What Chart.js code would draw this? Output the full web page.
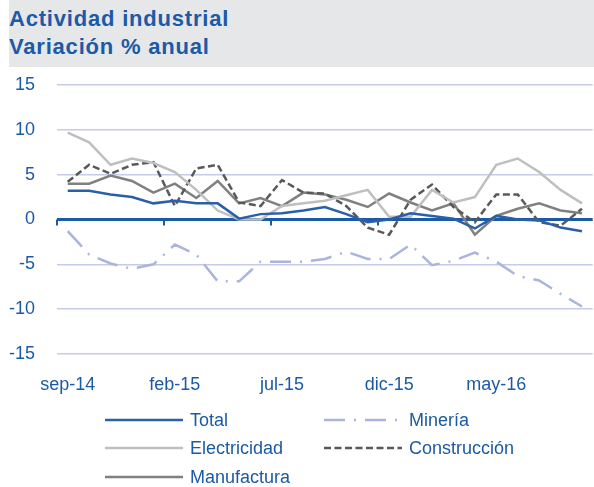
<!DOCTYPE html>
<html lang="es">

<head>
    <meta charset="UTF-8">
    <title>Actividad industrial</title>
    <script src="https://cdn.jsdelivr.net/npm/chart.js"></script>
    <style>
        body { margin: 0; background: #fff; }
        .wrap { position: relative; width: 594px; height: 487px; }
        .titulo {
            position: absolute; left: 9px; top: 0; width: 585px; height: 67px;
            background: #e6e7e8; box-sizing: border-box; padding: 5px 0 0 0;
            font-family: "Liberation Sans", Arial, sans-serif; font-weight: bold;
            font-size: 22px; line-height: 28px; letter-spacing: 0.8px; color: #1b5aa6;
        }
        canvas { position: absolute; left: 0; top: 0; }
    </style>
</head>

<body>
    <div class="wrap">
        <canvas id="actividadChart" width="594" height="487"></canvas>
        <div class="titulo">Actividad industrial<br>Variación % anual</div>
    </div>

    <script>
        // datos (variacion % anual)
        const meses = ['sep-14', 'oct-14', 'nov-14', 'dic-14', 'ene-15', 'feb-15', 'mar-15', 'abr-15', 'may-15',
            'jun-15', 'jul-15', 'ago-15', 'sep-15', 'oct-15', 'nov-15', 'dic-15', 'ene-16', 'feb-16', 'mar-16',
            'abr-16', 'may-16', 'jun-16', 'jul-16', 'ago-16', 'sep-16'];
        const total = [3.2, 3.2, 2.8, 2.5, 1.8, 2.1, 1.8, 1.8, 0.1, 0.6, 0.7, 1.0, 1.4, 0.6, -0.3, 0.0, 0.7, 0.4,
            0.1, -1.0, 0.4, 0.0, -0.1, -0.9, -1.3];
        const mineria = [-1.3, -3.9, -4.9, -5.5, -5.0, -2.8, -3.9, -6.9, -6.9, -4.7, -4.7, -4.7, -4.4, -3.6, -4.4,
            -4.4, -2.8, -5.1, -4.6, -3.7, -4.7, -6.3, -6.8, -8.3, -9.7];
        const electricidad = [9.7, 8.6, 6.1, 6.8, 6.3, 5.3, 3.3, 1.0, 0.0, 0.0, 1.5, 1.8, 2.1, 2.7, 3.3, 0.3, 0.3,
            3.3, 1.9, 2.5, 6.1, 6.8, 5.3, 3.3, 1.8];
        const construccion = [4.2, 6.1, 5.1, 6.1, 6.4, 1.5, 5.7, 6.1, 1.9, 1.5, 4.4, 3.0, 2.9, 1.5, -0.9, -1.7, 2.2,
            3.9, 1.4, -0.3, 2.8, 2.8, -0.3, -0.7, 1.2];
        const manufactura = [4.0, 4.0, 4.9, 4.3, 3.0, 4.0, 2.4, 4.3, 1.8, 2.4, 1.5, 3.0, 2.8, 2.2, 1.4, 2.9, 1.9,
            1.0, 1.8, -1.7, 0.4, 1.2, 1.8, 1.0, 0.7];

        const azul = '#1b5aa6';
        const fuente = '"Liberation Sans", Arial, sans-serif';

        // marcas del eje en cero, cada 5 categorias
        const marcasCero = {
            id: 'marcasCero',
            beforeDatasetsDraw(chart) {
                const x = chart.scales.x, y = chart.scales.y;
                const ctx = chart.ctx;
                const paso = x.getPixelForValue(1) - x.getPixelForValue(0);
                const y0 = y.getPixelForValue(0);
                ctx.save();
                ctx.strokeStyle = azul;
                ctx.lineWidth = 2;
                for (let i = 0; i < meses.length; i += 5) {
                    const px = Math.round(x.getPixelForValue(i) - paso / 2);
                    ctx.beginPath();
                    ctx.moveTo(px, y0);
                    ctx.lineTo(px, y0 + 6);
                    ctx.stroke();
                }
                ctx.restore();
            }
        };

        // leyenda en dos columnas como el original
        const leyenda = {
            id: 'leyenda',
            afterDraw(chart) {
                const ctx = chart.ctx;
                const pos = [[105, 183, 420], [324, 397, 420], [105, 183, 448], [324, 402, 448], [105, 183, 477]];
                ctx.save();
                ctx.font = '18px ' + fuente;
                ctx.textBaseline = 'middle';
                chart.data.datasets.forEach((ds, i) => {
                    const [x1, x2, yy] = pos[i];
                    ctx.strokeStyle = ds.borderColor;
                    ctx.lineWidth = ds.borderWidth;
                    ctx.setLineDash(ds.borderDash || []);
                    ctx.beginPath();
                    ctx.moveTo(x1, yy);
                    ctx.lineTo(x2, yy);
                    ctx.stroke();
                    ctx.fillStyle = azul;
                    ctx.fillText(ds.label, x1 < 200 ? 190 : 409, yy + 1);
                });
                ctx.restore();
            }
        };

        const ctx = document.getElementById('actividadChart').getContext('2d');
        new Chart(ctx, {
            type: 'line',
            data: {
                labels: meses,
                datasets: [
                    { label: 'Total', data: total, borderColor: '#2a5fa9', borderWidth: 2.5 },
                    { label: 'Minería', data: mineria, borderColor: '#aab4dc', borderWidth: 2.5, borderDash: [21, 9, 2, 9] },
                    { label: 'Electricidad', data: electricidad, borderColor: '#bfbfbf', borderWidth: 2.5 },
                    { label: 'Construcción', data: construccion, borderColor: '#595959', borderWidth: 2.5, borderDash: [7, 3.5] },
                    { label: 'Manufactura', data: manufactura, borderColor: '#808080', borderWidth: 2.5 }
                ]
            },
            options: {
                responsive: false,
                animation: false,
                layout: { padding: { left: 8, right: 0, top: 85, bottom: 88 } },
                elements: { point: { radius: 0 }, line: { tension: 0, borderCapStyle: 'butt' } },
                plugins: { legend: { display: false }, tooltip: { enabled: false } },
                scales: {
                    x: {
                        offset: true,
                        grid: { display: false },
                        border: { display: false },
                        ticks: {
                            autoSkip: false, maxRotation: 0, padding: 12,
                            color: azul, font: { family: fuente, size: 18 },
                            callback: (v, i) => i % 5 === 0 ? meses[i] : ''
                        },
                        afterFit: s => { s.height = 45; }
                    },
                    y: {
                        min: -15, max: 15,
                        border: { display: false },
                        grid: {
                            drawTicks: false,
                            color: c => c.tick.value === 0 ? azul : '#c5cbe8',
                            lineWidth: c => c.tick.value === 0 ? 3 : 1.5
                        },
                        ticks: { stepSize: 5, padding: 22, color: azul, font: { family: fuente, size: 18 } },
                        afterFit: s => { s.width = 49; }
                    }
                }
            },
            plugins: [marcasCero, leyenda]
        });
    </script>
</body>

</html>
